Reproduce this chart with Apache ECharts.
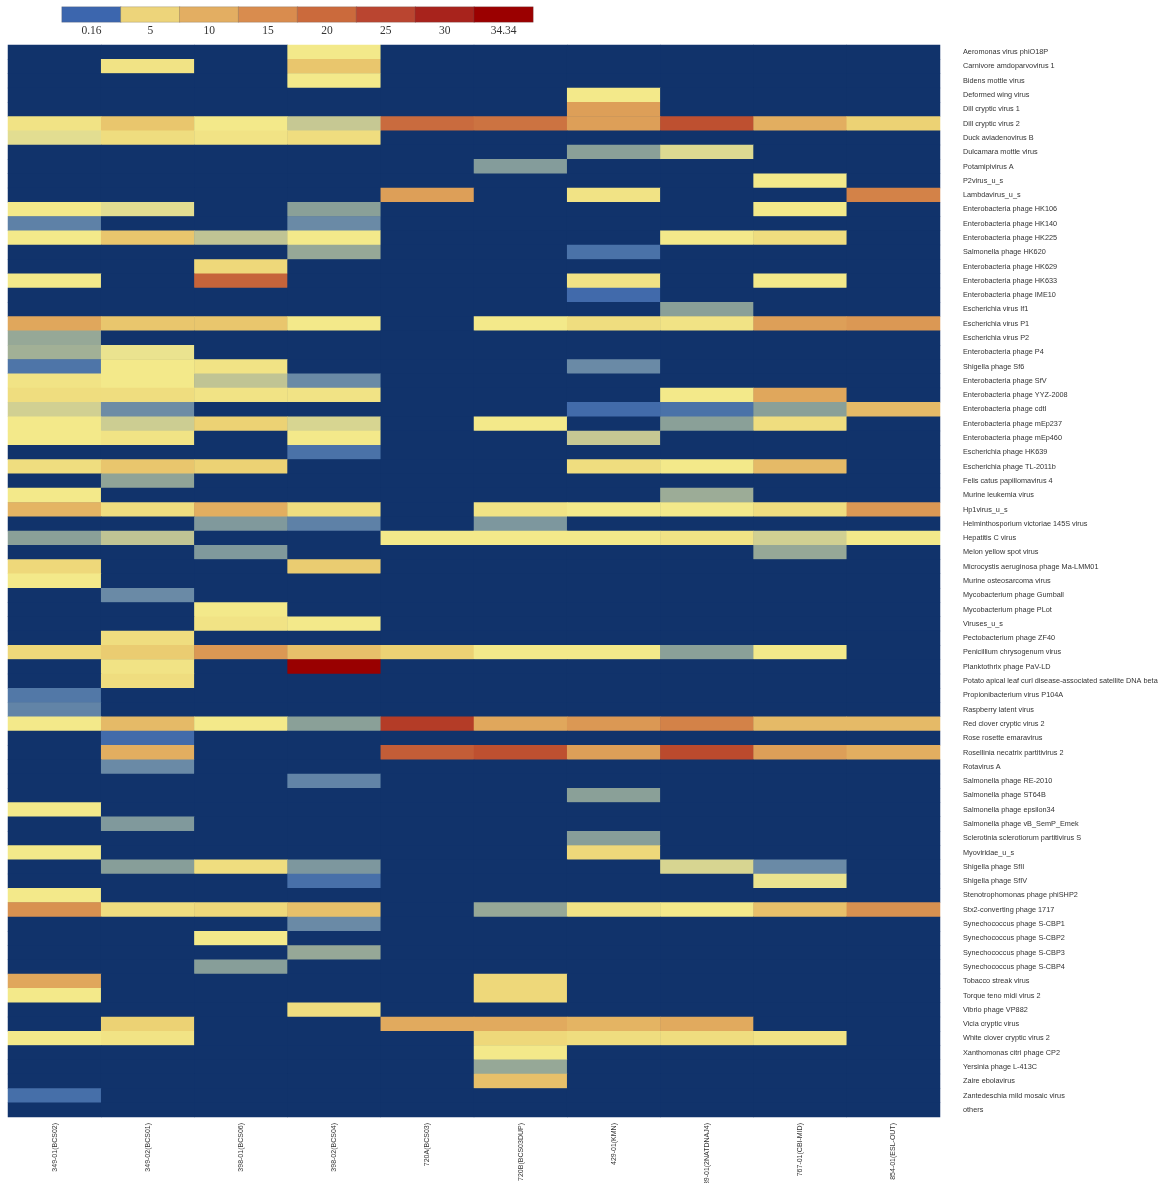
<!DOCTYPE html>
<html>
<head>
<meta charset="utf-8">
<script src="https://cdn.jsdelivr.net/npm/echarts@6/dist/echarts.min.js"></script>
<style>
  html, body { margin: 0; padding: 0; background: #ffffff; }
  #chart { width: 1166px; height: 1183px; }
</style>
</head>
<body>
<div id="chart"></div>
<script>
// Samples (columns)
const samples = [
  '349-01(BCS02)', '349-02(BCS01)', '398-01(BCS06)', '398-02(BCS04)', '720A(BCS03)',
  '720B(BCS03DUP)', '429-01(KMN)', '439-01(2NATDNAJ4)', '767-01(CBI-MID)', '854-01(ESL-OUT)'
];

// Viruses (rows, top to bottom)
const viruses = [
  'Aeromonas virus phiO18P', 'Carnivore amdoparvovirus 1', 'Bidens mottle virus', 'Deformed wing virus',
  'Dill cryptic virus 1', 'Dill cryptic virus 2', 'Duck aviadenovirus B', 'Dulcamara mottle virus',
  'Potamipivirus A', 'P2virus_u_s', 'Lambdavirus_u_s', 'Enterobacteria phage HK106',
  'Enterobacteria phage HK140', 'Enterobacteria phage HK225', 'Salmonella phage HK620', 'Enterobacteria phage HK629',
  'Enterobacteria phage HK633', 'Enterobacteria phage IME10', 'Escherichia virus If1', 'Escherichia virus P1',
  'Escherichia virus P2', 'Enterobacteria phage P4', 'Shigella phage Sf6', 'Enterobacteria phage SfV',
  'Enterobacteria phage YYZ-2008', 'Enterobacteria phage cdtI', 'Enterobacteria phage mEp237', 'Enterobacteria phage mEp460',
  'Escherichia phage HK639', 'Escherichia phage TL-2011b', 'Felis catus papillomavirus 4', 'Murine leukemia virus',
  'Hp1virus_u_s', 'Helminthosporium victoriae 145S virus', 'Hepatitis C virus', 'Melon yellow spot virus',
  'Microcystis aeruginosa phage Ma-LMM01', 'Murine osteosarcoma virus', 'Mycobacterium phage Gumball', 'Mycobacterium phage PLot',
  'Viruses_u_s', 'Pectobacterium phage ZF40', 'Penicillium chrysogenum virus', 'Planktothrix phage PaV-LD',
  'Potato apical leaf curl disease-associated satellite DNA beta', 'Propionibacterium virus P104A', 'Raspberry latent virus', 'Red clover cryptic virus 2',
  'Rose rosette emaravirus', 'Rosellinia necatrix partitivirus 2', 'Rotavirus A', 'Salmonella phage RE-2010',
  'Salmonella phage ST64B', 'Salmonella phage epsilon34', 'Salmonella phage vB_SemP_Emek', 'Sclerotinia sclerotiorum partitivirus S',
  'Myoviridae_u_s', 'Shigella phage SfII', 'Shigella phage SfIV', 'Stenotrophomonas phage phiSHP2',
  'Stx2-converting phage 1717', 'Synechococcus phage S-CBP1', 'Synechococcus phage S-CBP2', 'Synechococcus phage S-CBP3',
  'Synechococcus phage S-CBP4', 'Tobacco streak virus', 'Torque teno midi virus 2', 'Vibrio phage VP882',
  'Vicia cryptic virus', 'White clover cryptic virus 2', 'Xanthomonas citri phage CP2', 'Yersinia phage L-413C',
  'Zaire ebolavirus', 'Zantedeschia mild mosaic virus', 'others'
];

// Relative abundance (%) per virus, one value per sample; 0 = not detected
const abundance = [
  [0, 0, 0, 5, 0, 0, 0, 0, 0, 0],
  [0, 5.5, 0, 8, 0, 0, 0, 0, 0, 0],
  [0, 0, 0, 5, 0, 0, 0, 0, 0, 0],
  [0, 0, 0, 0, 0, 0, 5, 0, 0, 0],
  [0, 0, 0, 0, 0, 0, 12, 0, 0, 0],
  [5.5, 8, 5, 3.8, 19, 18, 12, 23, 10, 7],
  [4.3, 6, 5.5, 6, 0, 0, 0, 0, 0, 0],
  [0, 0, 0, 0, 0, 0, 2.8, 4.2, 0, 0],
  [0, 0, 0, 0, 0, 2.6, 0, 0, 0, 0],
  [0, 0, 0, 0, 0, 0, 0, 0, 5, 0],
  [0, 0, 0, 0, 12, 0, 5.5, 0, 0, 16],
  [5, 4.3, 0, 2.8, 0, 0, 0, 0, 5, 0],
  [1.5, 0, 0, 1.8, 0, 0, 0, 0, 0, 0],
  [5, 8, 3.7, 5, 0, 0, 0, 5, 6, 0],
  [0, 0, 0, 3, 0, 0, 1, 0, 0, 0],
  [0, 0, 6.5, 0, 0, 0, 0, 0, 0, 0],
  [5, 0, 20, 0, 0, 0, 5.5, 0, 5, 0],
  [0, 0, 0, 0, 0, 0, 0.5, 0, 0, 0],
  [0, 0, 0, 0, 0, 0, 0, 2.8, 0, 0],
  [11, 8, 8, 5, 0, 5, 6, 5.5, 12, 13],
  [3, 0, 0, 0, 0, 0, 0, 0, 0, 0],
  [3.2, 4.5, 0, 0, 0, 0, 0, 0, 0, 0],
  [1.1, 5, 5.5, 0, 0, 0, 1.8, 0, 0, 0],
  [5.5, 5, 3.7, 1.8, 0, 0, 0, 0, 0, 0],
  [6, 6, 5.5, 5.5, 0, 0, 0, 5, 11, 0],
  [4, 1.9, 0, 0, 0, 0, 0.6, 1, 2.8, 9],
  [5, 3.9, 7, 4.1, 0, 5, 0, 2.8, 6, 0],
  [5, 5.5, 0, 5, 0, 0, 3.8, 0, 0, 0],
  [0, 0, 0, 1, 0, 0, 0, 0, 0, 0],
  [6, 8, 7, 0, 0, 0, 6, 5, 9, 0],
  [0, 2.9, 0, 0, 0, 0, 0, 0, 0, 0],
  [5, 0, 0, 0, 0, 0, 0, 3.1, 0, 0],
  [9.5, 6, 10, 6, 0, 5.5, 5, 5, 6, 13],
  [0, 0, 2.5, 1.5, 0, 2.4, 0, 0, 0, 0],
  [2.8, 3.7, 0, 0, 5, 5, 5, 5.5, 4, 5],
  [0, 0, 2.5, 0, 0, 0, 0, 0, 3, 0],
  [6.5, 0, 0, 7.5, 0, 0, 0, 0, 0, 0],
  [5, 0, 0, 0, 0, 0, 0, 0, 0, 0],
  [0, 1.8, 0, 0, 0, 0, 0, 0, 0, 0],
  [0, 0, 5, 0, 0, 0, 0, 0, 0, 0],
  [0, 0, 5.5, 5, 0, 0, 0, 0, 0, 0],
  [0, 6, 0, 0, 0, 0, 0, 0, 0, 0],
  [6.5, 7.5, 13, 8.5, 7, 5, 5, 2.8, 5, 0],
  [0, 5.5, 0, 34.34, 0, 0, 0, 0, 0, 0],
  [0, 6, 0, 0, 0, 0, 0, 0, 0, 0],
  [1.2, 0, 0, 0, 0, 0, 0, 0, 0, 0],
  [1.6, 0, 0, 0, 0, 0, 0, 0, 0, 0],
  [5, 9, 5, 2.8, 26, 11, 13, 16, 9, 9],
  [0, 0.6, 0, 0, 0, 0, 0, 0, 0, 0],
  [0, 10, 0, 0, 21, 23, 12, 24, 12, 10],
  [0, 1.8, 0, 0, 0, 0, 0, 0, 0, 0],
  [0, 0, 0, 1.6, 0, 0, 0, 0, 0, 0],
  [0, 0, 0, 0, 0, 0, 2.8, 0, 0, 0],
  [5, 0, 0, 0, 0, 0, 0, 0, 0, 0],
  [0, 2.5, 0, 0, 0, 0, 0, 0, 0, 0],
  [0, 0, 0, 0, 0, 0, 2.7, 0, 0, 0],
  [5, 0, 0, 0, 0, 0, 6.5, 0, 0, 0],
  [0, 2.7, 6, 2.4, 0, 0, 0, 4.1, 1.8, 0],
  [0, 0, 0, 0.9, 0, 0, 0, 0, 4.5, 0],
  [5, 0, 0, 0, 0, 0, 0, 0, 0, 0],
  [14, 6, 6.5, 8.5, 0, 3, 5.5, 5, 8.5, 14],
  [0, 0, 0, 1.8, 0, 0, 0, 0, 0, 0],
  [0, 0, 5, 0, 0, 0, 0, 0, 0, 0],
  [0, 0, 0, 3, 0, 0, 0, 0, 0, 0],
  [0, 0, 2.7, 0, 0, 0, 0, 0, 0, 0],
  [11, 0, 0, 0, 0, 6.5, 0, 0, 0, 0],
  [5, 0, 0, 0, 0, 6.5, 0, 0, 0, 0],
  [0, 0, 0, 6, 0, 0, 0, 0, 0, 0],
  [0, 7, 0, 0, 10.5, 10.5, 9.5, 10.5, 0, 0],
  [5, 5.5, 0, 0, 0, 6.5, 6, 6, 5.5, 0],
  [0, 0, 0, 0, 0, 5, 0, 0, 0, 0],
  [0, 0, 0, 0, 0, 3, 0, 0, 0, 0],
  [0, 0, 0, 0, 0, 8.5, 0, 0, 0, 0],
  [0.8, 0, 0, 0, 0, 0, 0, 0, 0, 0],
  [0, 0, 0, 0, 0, 0, 0, 0, 0, 0]
];

// Colour key ticks
const keyTicks = ['0.16', '5', '10', '15', '20', '25', '30', '34.34'];
const keyColors = ['#3c66ae', '#edd47a', '#e3ae62', '#d98c4e', '#cb6a3c', '#ba4530', '#a8231c', '#9b0000'];

const VMIN = 0.16, VMAX = 34.34;
const ABSENT = '#11336b';

// Colour ramp: value -> colour stops (below VMIN means not detected)
const ramp = [
  [0.16, '#3a64ad'], [1.0, '#4a72a8'], [1.8, '#6a8aa6'], [2.8, '#8aa098'],
  [3.8, '#c6c893'], [4.4, '#e8e290'], [5.0, '#f3e98a'], [7.0, '#ecd274'],
  [10, '#e2ae60'], [15, '#d68a4c'], [20, '#c6643a'], [25, '#b8432a'],
  [30, '#a6211a'], [34.34, '#990000']
];

function hexToRgb(h) {
  return [parseInt(h.slice(1, 3), 16), parseInt(h.slice(3, 5), 16), parseInt(h.slice(5, 7), 16)];
}
function rampColor(v) {
  if (v < VMIN) return ABSENT;
  for (let i = 0; i < ramp.length - 1; i++) {
    const [v0, c0] = ramp[i], [v1, c1] = ramp[i + 1];
    if (v <= v1) {
      const t = Math.max(0, (v - v0) / (v1 - v0));
      const a = hexToRgb(c0), b = hexToRgb(c1);
      const m = a.map((x, k) => Math.round(x + (b[k] - x) * t));
      return 'rgb(' + m.join(',') + ')';
    }
  }
  return ramp[ramp.length - 1][1];
}
// Evenly sampled palette for the continuous visual map over [0, VMAX]
const STEPS = 800;
const palette = [];
for (let i = 0; i <= STEPS; i++) palette.push(rampColor(VMAX * i / STEPS));

const cells = [];
abundance.forEach((row, r) => row.forEach((v, c) => cells.push([c, r, v])));

const chart = echarts.init(document.getElementById('chart'), null, { renderer: 'canvas' });
chart.setOption({
  backgroundColor: '#ffffff',
  animation: false,
  grid: [
    {
      left: 8, right: 226, top: 45, bottom: 66, outerBoundsMode: 'none', containLabel: false,
      show: true, backgroundColor: ABSENT, borderWidth: 0
    },
    { left: 62, top: 7, width: 471, height: 15, outerBoundsMode: 'none', containLabel: false }
  ],
  xAxis: [
    {
      type: 'category', data: samples, gridIndex: 0, position: 'bottom',
      axisLine: { show: false }, axisTick: { show: false }, splitLine: { show: false },
      axisLabel: { rotate: 90, interval: 0, fontSize: 7, color: '#333', margin: 6, fontFamily: 'Liberation Sans' }
    },
    {
      type: 'category', data: keyTicks, gridIndex: 1,
      axisLine: { show: false }, axisTick: { show: false },
      axisLabel: { fontSize: 11.5, color: '#333', margin: 3, fontFamily: 'Liberation Serif' }
    }
  ],
  yAxis: [
    {
      type: 'category', data: viruses, gridIndex: 0, inverse: true, position: 'right',
      axisLine: { show: false }, axisTick: { show: false }, splitLine: { show: false },
      axisLabel: { interval: 0, fontSize: 7.3, color: '#333', margin: 23, fontFamily: 'Liberation Sans' }
    },
    { type: 'category', data: [''], gridIndex: 1, show: false }
  ],
  visualMap: [
    {
      type: 'continuous', show: false, seriesIndex: 0,
      min: 0, max: VMAX, dimension: 2,
      inRange: { color: palette }
    },
    {
      type: 'piecewise', show: false, seriesIndex: 1, dimension: 2,
      pieces: keyColors.map((c, i) => ({ value: i, color: c }))
    }
  ],
  series: [
    {
      type: 'heatmap', xAxisIndex: 0, yAxisIndex: 0, data: cells,
      itemStyle: { borderWidth: 0 },
      emphasis: { disabled: true }
    },
    {
      type: 'heatmap', xAxisIndex: 1, yAxisIndex: 1,
      data: keyTicks.map((t, i) => [i, 0, i]),
      itemStyle: { borderColor: 'rgba(90,90,90,0.5)', borderWidth: 0.5 },
      emphasis: { disabled: true }
    }
  ]
});
</script>
</body>
</html>
